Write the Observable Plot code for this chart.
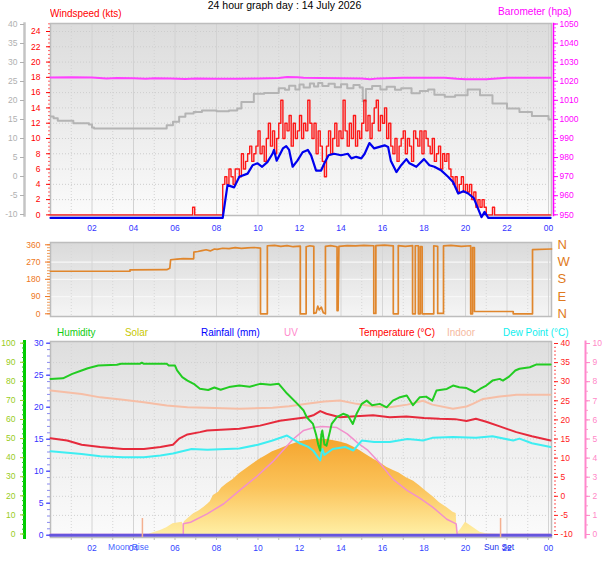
<!DOCTYPE html>
<html>
<head>
<meta charset="utf-8">
<script src="https://cdn.jsdelivr.net/npm/d3@7"></script>
<script src="https://cdn.jsdelivr.net/npm/@observablehq/plot@0.6"></script>
<style>
  body { margin: 0; background: #fff; }
  #chart { position: relative; width: 608px; height: 561px; overflow: hidden; background: #fff; }
  #chart svg { position: absolute; left: 0; }
  .lbl { position: absolute; white-space: nowrap; line-height: 1; }
</style>
</head>
<body>
<div id="chart"></div>
<script>
// ---------------- DATA ----------------
const title = "24 hour graph day : 14 July 2026";
const hourTicks = [2, 4, 6, 8, 10, 12, 14, 16, 18, 20, 22, 24];
const oddHours = [1, 3, 5, 7, 9, 11, 13, 15, 17, 19, 21, 23];

// Wind gust (kts): calm before, active part sampled every 0.1 h from 08:18, calm after
const gustCalmBeforeT = [0, 6.85, 6.95];
const gustCalmBeforeV = [0, 1, 0];
const gustStart = 8.3, gustStep = 0.1;
const gustValues = [
  4, 5, 4, 6, 5, 4, 6,
  6, 5, 8, 6, 7, 8, 9, 7, 8, 9,
  11, 8, 9, 7, 10, 12, 9, 11, 8, 10,
  12, 15, 10, 12, 11, 13, 9, 12, 10, 11,
  13, 10, 12, 11, 15, 12, 10, 12, 8, 11,
  9, 7, 5, 9, 11, 8, 10, 12, 9, 11,
  10, 15, 11, 9, 12, 10, 13, 9, 11, 10,
  12, 15, 11, 13, 10, 12, 14, 15, 11, 13,
  12, 14, 10, 12, 9, 8, 10, 7, 9, 10,
  11, 8, 10, 9, 7, 11, 10, 9, 11, 8,
  11, 10, 9, 8, 10, 7, 8, 9, 6, 8,
  7, 8, 6, 5, 4, 5, 3, 4, 5, 3,
  4, 3, 4, 2, 3, 1, 2, 1, 2, 1,
  0
];
const gustCalmAfterT = [21.3, 21.4, 24.1];
const gustCalmAfterV = [1, 0, 0];

// Average wind (kts)
const avgT = [0, 8.3, 8.53, 8.85, 9.1, 9.5, 9.74, 9.98, 10.2, 10.45, 10.7, 10.77, 10.9, 11.2, 11.36, 11.5, 11.67, 11.9, 12.15, 12.4, 12.56, 12.8, 13.04, 13.2, 13.4, 13.67, 14.0, 14.33, 14.5, 14.73, 14.98, 15.14, 15.37, 15.6, 15.85, 16.1, 16.27, 16.4, 16.67, 16.9, 17.15, 17.3, 17.63, 17.8, 18.0, 18.26, 18.5, 18.84, 19.16, 19.4, 19.65, 19.9, 20.13, 20.4, 20.6, 20.77, 20.92, 21.1, 24.1];
const avgV = [-0.4, -0.4, 3.9, 3.6, 5.0, 5.4, 6.5, 6.75, 6.3, 6.9, 8.0, 8.5, 7.1, 8.7, 9.0, 8.5, 6.3, 7.1, 8.2, 8.5, 7.8, 5.8, 5.8, 6.75, 7.8, 8.0, 7.8, 8.0, 7.4, 7.6, 7.4, 8.0, 9.4, 8.7, 8.9, 9.1, 8.9, 7.1, 5.6, 6.5, 7.3, 6.75, 6.3, 6.75, 7.3, 6.5, 6.3, 5.8, 5.0, 4.3, 2.8, 3.1, 2.8, 2.2, 0.85, -0.3, 0.4, -0.4, -0.4];

// Grey trace on the -10..40 scale
const greyT = [0, 0.15, 0.35, 1.1, 1.85, 2.0, 2.1, 5.6, 5.9, 6.2, 6.5, 6.9, 7.3, 8.0, 8.6, 9.0, 9.2, 9.8, 10.3, 11.0, 11.3, 11.5, 11.8, 12.0, 12.2, 12.5, 12.7, 12.9, 13.1, 13.4, 13.7, 14.0, 14.3, 14.6, 14.9, 15.05, 15.2, 15.5, 15.9, 16.2, 16.6, 16.9, 17.4, 17.8, 18.2, 18.5, 19.0, 19.5, 20.1, 20.7, 21.3, 22.0, 22.6, 23.2, 24.0, 24.1];
const greyV = [15.8, 15.3, 14.7, 14.0, 13.7, 12.9, 12.6, 13.5, 14.4, 15.7, 16.6, 17.0, 17.4, 17.2, 17.4, 17.9, 19.6, 21.8, 22.0, 23.2, 22.8, 23.9, 22.9, 24.2, 23.4, 24.5, 23.7, 24.6, 23.8, 24.4, 23.5, 24.3, 23.2, 24.1, 23.4, 19.8, 23.0, 23.8, 22.9, 23.6, 22.8, 23.2, 21.9, 22.5, 22.9, 21.5, 21.0, 21.4, 22.9, 21.4, 19.2, 17.9, 17.0, 15.9, 15.0, 15.0];

// Barometer (hPa)
const baroT = [0, 1.0, 2.0, 2.7, 3.2, 4.0, 4.6, 5.0, 5.8, 6.5, 7.0, 8.0, 9.0, 10.0, 11.0, 11.4, 11.9, 12.2, 13.0, 14.0, 15.0, 15.4, 15.8, 17.0, 18.0, 19.0, 19.6, 20.0, 21.0, 21.5, 22.0, 24.1];
const baroV = [1022.0, 1022.1, 1021.9, 1021.5, 1021.7, 1021.6, 1021.3, 1021.6, 1021.5, 1021.2, 1021.4, 1021.3, 1021.3, 1021.4, 1021.7, 1022.2, 1022.1, 1021.8, 1021.7, 1021.6, 1021.4, 1021.1, 1021.5, 1021.8, 1021.8, 1021.8, 1021.3, 1021.1, 1021.1, 1021.4, 1021.8, 1021.8];

// Wind direction (degrees)
const dirT = [0, 3.83, 3.83, 5.6, 5.75, 5.79, 6.1, 6.4, 6.9, 6.91, 7.1, 7.3, 7.5, 7.7, 7.9, 8.03, 8.3, 8.6, 8.9, 9.2, 9.5, 9.8, 10.12, 10.12, 10.45, 10.45, 10.8, 11.1, 11.4, 11.7, 12.04, 12.04, 12.32, 12.32, 12.5, 12.69, 12.69, 12.8, 12.88, 12.95, 13.05, 13.15, 13.25, 13.25, 13.5, 13.81, 13.81, 13.86, 13.9, 14.3, 14.7, 15.1, 15.58, 15.58, 15.68, 15.68, 16.1, 16.52, 16.52, 16.76, 16.76, 17.1, 17.45, 17.45, 17.58, 17.58, 17.73, 17.73, 17.82, 17.82, 17.91, 17.91, 18.47, 18.47, 18.66, 18.66, 18.94, 18.94, 19.3, 19.8, 20.25, 20.25, 20.34, 20.34, 20.43, 20.43, 22.3, 22.3, 23.23, 23.23, 24.15];
const dirV = [222, 222, 229, 230, 238, 282, 285, 288, 287, 322, 325, 330, 334, 328, 338, 336, 342, 340, 345, 341, 344, 346, 343, 0, 0, 355, 357, 352, 356, 350, 353, 0, 0, 350, 355, 352, 2, 5, 40, 20, 35, 5, 0, 352, 356, 350, 17, 17, 352, 356, 354, 357, 355, 2, 2, 356, 358, 354, 0, 0, 356, 352, 356, 0, 0, 355, 355, 0, 0, 350, 350, 0, 0, 355, 352, 2, 2, 354, 357, 352, 355, 0, 0, 345, 345, 12, 12, 0, 0, 335, 338];

// Humidity (%)
const humT = [0, 0.6, 1.05, 1.5, 1.8, 2.3, 3.2, 3.4, 4.3, 4.4, 4.5, 5.6, 5.7, 6.0, 6.1, 6.35, 6.6, 6.9, 7.2, 7.6, 7.9, 8.2, 8.6, 9.1, 9.6, 10.1, 10.6, 11.0, 11.4, 11.9, 12.2, 12.35, 12.65, 12.8, 12.9, 13.0, 13.05, 13.1, 13.2, 13.3, 13.45, 13.55, 13.8, 14.1, 14.33, 14.57, 14.75, 15.0, 15.24, 15.5, 15.87, 16.2, 16.5, 16.8, 17.17, 17.47, 17.8, 18.1, 18.4, 18.6, 19.1, 19.4, 19.7, 20.05, 20.45, 20.7, 21.0, 21.3, 21.65, 21.8, 22.1, 22.4, 22.6, 23.1, 23.4, 24.1];
const humV = [81.3, 81.6, 83.9, 85.7, 86.9, 88.3, 88.7, 89.2, 89.2, 89.8, 89.2, 89.2, 88.3, 88.3, 85.7, 82.2, 80.4, 78.7, 76.1, 75.5, 76.8, 75.6, 77.0, 77.8, 77.2, 78.7, 78.2, 78.7, 73.6, 68.2, 64.7, 61.2, 57.7, 52.0, 47.0, 43.7, 52.0, 54.2, 47.0, 46.3, 53.0, 57.7, 61.2, 63.0, 62.1, 57.7, 63.0, 68.2, 69.9, 67.5, 68.2, 66.4, 69.9, 71.5, 72.6, 67.5, 71.7, 72.0, 69.9, 75.2, 76.0, 77.8, 76.9, 76.5, 74.3, 76.0, 77.8, 80.4, 81.3, 80.4, 82.5, 85.7, 86.6, 87.4, 88.8, 88.8];

// Indoor temperature (°C)
const indoorT = [0, 1.5, 2.4, 3.5, 4.5, 5.6, 6.6, 7.5, 9.1, 10.7, 11.5, 12.35, 13.2, 13.95, 14.75, 15.5, 16.35, 17.2, 17.95, 18.4, 19.4, 20.05, 20.35, 20.85, 21.65, 22.45, 24.1];
const indoorV = [27.7, 26.8, 25.9, 25.3, 24.6, 23.8, 23.3, 23.2, 22.9, 23.2, 23.6, 24.2, 24.8, 25.1, 24.2, 23.6, 23.3, 24.0, 25.0, 24.0, 22.9, 23.5, 24.2, 25.5, 26.1, 26.6, 26.6];

// Outdoor temperature (°C)
const tempT = [0, 0.8, 1.5, 2.4, 3.5, 4.5, 5.3, 5.9, 6.2, 6.6, 7.2, 7.55, 9.1, 10.1, 11.05, 12.35, 12.7, 13.0, 13.3, 13.95, 14.5, 15.55, 16.35, 17.15, 18.0, 18.75, 19.5, 20.05, 20.5, 21.0, 21.65, 22.45, 23.2, 24.1];
const tempV = [15.2, 14.6, 13.5, 12.9, 12.4, 12.4, 12.9, 13.5, 15.1, 16.2, 16.8, 17.2, 17.7, 18.5, 19.8, 20.7, 21.3, 22.3, 21.6, 20.7, 20.9, 21.2, 20.7, 20.9, 20.5, 20.3, 20.2, 19.7, 20.3, 19.5, 18.3, 16.8, 15.7, 14.6];

// Dew point (°C)
const dewT = [0, 1.5, 2.4, 3.5, 4.5, 5.3, 5.9, 6.8, 7.55, 9.1, 10.0, 10.7, 11.4, 12.0, 12.4, 12.65, 12.85, 13.0, 13.1, 13.2, 13.6, 14.2, 14.6, 15.0, 15.6, 16.35, 17.2, 17.6, 17.95, 18.4, 19.4, 20.5, 21.3, 22.3, 22.6, 23.2, 24.1];
const dewV = [11.8, 11.1, 10.5, 10.2, 10.2, 10.7, 11.2, 12.4, 12.2, 12.5, 13.5, 14.6, 15.9, 13.9, 13.0, 12.0, 10.5, 9.4, 12.4, 10.8, 12.4, 12.9, 12.0, 14.6, 14.2, 14.2, 15.0, 14.8, 14.6, 15.3, 15.5, 15.3, 15.7, 14.6, 15.1, 13.9, 12.9];

// Solar radiation (W/m², no axis drawn)
const solarT = [0, 4.7, 4.8, 5.3, 5.6, 5.9, 6.35, 6.4, 6.45, 6.7, 6.9, 7.15, 7.4, 7.6, 7.7, 7.85, 8.1, 8.25, 8.5, 8.8, 9.1, 9.4, 9.75, 10.1, 10.4, 10.7, 11.05, 11.4, 11.7, 12.0, 12.35, 12.7, 13.0, 13.3, 13.6, 13.95, 14.3, 14.6, 14.9, 15.2, 15.55, 15.9, 16.2, 16.5, 16.8, 17.15, 17.5, 17.8, 18.1, 18.45, 18.75, 19.1, 19.4, 19.55, 19.6, 19.8, 20.0, 20.35, 20.7, 21.0, 21.65, 21.7, 24.1];
const solarV = [0, 0, 9, 26, 40, 61, 69, 52, 72, 95, 113, 128, 147, 165, 176, 208, 225, 248, 269, 292, 321, 345, 373, 398, 417, 436, 451, 466, 477, 488, 495, 500, 502, 500, 495, 487, 477, 461, 443, 422, 399, 378, 356, 340, 325, 301, 283, 258, 230, 200, 170, 146, 121, 115, 10, 36, 69, 43, 17, 9, 5, 0, 0];

// UV index
const uvT = [0, 6.4, 6.4, 6.75, 7.55, 8.35, 9.1, 9.9, 10.7, 11.2, 11.7, 12.2, 12.7, 13.1, 13.8, 14.3, 14.8, 15.3, 15.9, 16.5, 17.2, 17.8, 18.4, 19.1, 19.55, 19.6, 24.1];
const uvV = [0, 0, 0.56, 0.64, 1.08, 1.61, 2.3, 3.0, 3.8, 4.4, 5.0, 5.45, 5.6, 5.65, 5.6, 5.27, 4.8, 4.4, 3.7, 2.9, 2.3, 1.9, 1.45, 0.8, 0.56, 0, 0];

// Rainfall (mm)
const rainT = [0, 24.1];
const rainV = [0, 0];

// Events
const moonRise = [{t: 4.43, label: "Moon Rise"}];
const sunSet = [{t: 21.69, label: "Sun Set"}];

// Legend
const legendItems = [
  ["Humidity", 57, "#11cc11"], ["Solar", 125, "#c8c800"], ["Rainfall (mm)", 201, "#0000ff"],
  ["UV", 284, "#ff88cc"], ["Temperature (°C)", 359, "#ff0000"], ["Indoor", 447, "#f5b9a0"],
  ["Dew Point (°C)", 503, "#11eeee"]
];

// ---------------- LAYOUT ----------------
const chart = document.getElementById("chart");
const W = 608, X0 = 50, X1 = 551, X24 = 548;
const xDomain = [0, 24 * (X1 - X0) / (X24 - X0)];
const FONT = '"Liberation Sans", Arial, sans-serif';
const rows = (ts, vs) => ts.map((t, i) => ({t, v: vs[i]}));
const hh = d => String(d % 24).padStart(2, "0");
const plain = d => String(d);

function fit(v0, p0, v1, p1, P) {
  const k = (v1 - v0) / (p1 - p0);
  return [v0 + (P.bottom - p0) * k, v0 + (P.top - p0) * k];
}

function addGrad(svg, id, stops) {
  let defs = d3.select(svg).select("defs");
  if (defs.empty()) defs = d3.select(svg).insert("defs", ":first-child");
  const g = defs.append("linearGradient").attr("id", id)
    .attr("x1", 0).attr("y1", 0).attr("x2", 0).attr("y2", 1);
  stops.forEach(([o, c]) => g.append("stop").attr("offset", o).attr("stop-color", c));
}

function layer(P, yDomain, marks, grads) {
  const svg = Plot.plot({
    width: W, height: P.h,
    marginLeft: X0, marginRight: W - X1,
    marginTop: P.top - P.svgTop, marginBottom: P.svgTop + P.h - P.bottom,
    x: {domain: xDomain, axis: null, label: null},
    y: {domain: yDomain, axis: null, label: null},
    style: {background: "transparent", overflow: "visible", fontFamily: FONT},
    marks
  });
  svg.style.position = "absolute";
  svg.style.left = "0px";
  svg.style.top = P.svgTop + "px";
  (grads || []).forEach(g => addGrad(svg, g[0], g[1]));
  chart.appendChild(svg);
  return svg;
}

function label(text, x, cy, color, size, squeeze, anchor) {
  const d = document.createElement("div");
  d.className = "lbl";
  d.textContent = text;
  d.style.left = x + "px";
  d.style.top = (cy - size * 0.55) + "px";
  d.style.color = color;
  d.style.fontSize = size + "px";
  d.style.fontFamily = FONT;
  if (anchor === "middle") d.style.transform = "translateX(-50%)";
  else if (squeeze) { d.style.transformOrigin = "0 50%"; d.style.transform = `scaleX(${squeeze})`; }
  chart.appendChild(d);
}

const range = (a, b, s) => d3.range(a, b + s / 2, s);

// ---------------- TOP PANEL ----------------
const PT = {svgTop: 0, h: 240, top: 23, bottom: 215};
const windDom = fit(0, 214.4, 24, 31, PT);
const greyDom = fit(-10, 214, 40, 24, PT);
const baroDom = fit(950, 214.3, 1050, 23.5, PT);

layer(PT, windDom, [
  Plot.frame({fill: "url(#bgTop)"}),
  Plot.gridY(range(2, 24, 2), {stroke: "#cdcdcd", strokeOpacity: 1, strokeDasharray: "1,2"}),
  Plot.gridX(hourTicks, {stroke: "#d2d2d2", strokeOpacity: 1}),
  Plot.gridX(oddHours, {stroke: "#d2d2d2", strokeOpacity: 1, strokeDasharray: "1,2"}),
  Plot.frame({stroke: "#bdbdbd", strokeWidth: 1.5}),
  Plot.axisY({ticks: range(0, 25, 0.5), tickSize: 2, tickFormat: () => "", color: "#ff6060", label: null}),
  Plot.axisY({ticks: range(0, 24, 2), tickSize: 4, tickPadding: 6, tickFormat: plain, color: "#ff0000", fontSize: 8.5, label: null}),
  Plot.axisX({ticks: hourTicks, tickSize: 0, tickPadding: 9, tickFormat: hh, color: "#3333ff", fontSize: 8.5, label: null})
], [["bgTop", [[0, "#dcdcdc"], [0.35, "#e6e6e6"], [1, "#fbfbfb"]]]]);

layer(PT, greyDom, [
  Plot.frame({anchor: "left", dx: -26, stroke: "#c4c4c4", strokeWidth: 2.5}),
  Plot.axisY({ticks: range(-10, 40, 5), tickSize: 4, tickPadding: 3, dx: -26, tickFormat: plain, color: "#b0b0b0", fontSize: 8.5, label: null}),
  Plot.line(rows(greyT, greyV), {x: "t", y: "v", stroke: "#b4b4b4", strokeWidth: 2, curve: "step-after"})
]);

layer(PT, baroDom, [
  Plot.frame({anchor: "right", dx: 2, stroke: "#ff00ff", strokeWidth: 1.5}),
  Plot.axisY({anchor: "right", ticks: range(950, 1050, 2), tickSize: 2, dx: 2, tickFormat: () => "", color: "#ff55ff", label: null}),
  Plot.axisY({anchor: "right", ticks: range(950, 1050, 10), tickSize: 4, tickPadding: 2, dx: 2, tickFormat: plain, color: "#ff00ff", fontSize: 8.5, label: null}),
  Plot.line(rows(baroT, baroV), {x: "t", y: "v", stroke: "#ff40ff", strokeWidth: 2})
]);

const gustRows = [
  ...rows(gustCalmBeforeT, gustCalmBeforeV),
  ...gustValues.map((v, i) => ({t: gustStart + i * gustStep, v})),
  ...rows(gustCalmAfterT, gustCalmAfterV)
];
layer(PT, windDom, [
  Plot.line(gustRows, {x: "t", y: "v", stroke: "#ff0000", strokeWidth: 1.4, strokeOpacity: 0.9, curve: "step-after"}),
  Plot.line(rows(avgT, avgV), {x: "t", y: "v", stroke: "#0000ee", strokeWidth: 2.2})
]);

// ---------------- MIDDLE PANEL ----------------
const PM = {svgTop: 232, h: 92, top: 242, bottom: 316};
const dirDom = fit(0, 313.3, 360, 244.3, PM);
const compass = {0: "N", 90: "E", 180: "S", 270: "W", 360: "N"};
layer(PM, dirDom, [
  Plot.frame({fill: "url(#bgMid)"}),
  Plot.gridY([90, 180, 270], {stroke: "#f7f7f7", strokeOpacity: 1, strokeWidth: 1.2}),
  Plot.gridX(hourTicks, {stroke: "#d6d6d6", strokeOpacity: 1}),
  Plot.gridX(oddHours, {stroke: "#d6d6d6", strokeOpacity: 1, strokeDasharray: "1,2"}),
  Plot.frame({stroke: "#bdbdbd", strokeWidth: 1.5}),
  Plot.axisY({ticks: range(0, 360, 15), tickSize: 3, tickFormat: () => "", color: "#f0a060", label: null}),
  Plot.axisY({ticks: [0, 90, 180, 270, 360], tickSize: 5, tickPadding: 5, tickFormat: plain, color: "#ee7722", fontSize: 8.5, label: null}),
  Plot.axisY({anchor: "right", ticks: [0, 90, 180, 270, 360], tickSize: 0, tickPadding: 6, tickFormat: d => compass[d], color: "#e07a20", fontSize: 13, label: null}),
  Plot.line(rows(dirT, dirV), {x: "t", y: "v", stroke: "#e0862c", strokeWidth: 1.7})
], [["bgMid", [[0, "#dadada"], [1, "#f5f5f5"]]]]);

// ---------------- BOTTOM PANEL ----------------
const PB = {svgTop: 322, h: 239, top: 341, bottom: 537};
const tempDom = fit(-10, 534, 40, 343, PB);
const humDom = fit(0, 533.5, 100, 342.7, PB);
const rainDom = fit(0, 534.7, 30, 342.7, PB);
const uvDom = fit(0, 534, 10, 343, PB);
const solarDom = fit(0, 535, 1000, 343, PB);

layer(PB, tempDom, [
  Plot.frame({fill: "url(#bgBot)"}),
  Plot.gridY(range(-5, 35, 5), {stroke: "#d0d0d0", strokeOpacity: 1, strokeDasharray: "1,2"}),
  Plot.gridX(hourTicks, {stroke: "#d4d4d4", strokeOpacity: 1}),
  Plot.gridX(oddHours, {stroke: "#d4d4d4", strokeOpacity: 1, strokeDasharray: "1,2"}),
  Plot.frame({stroke: "#bdbdbd", strokeWidth: 1.5}),
  Plot.axisX({ticks: range(1, 24, 1), tickSize: 3, tickFormat: () => "", color: "#bbbbbb", label: null}),
  Plot.axisX({ticks: hourTicks, tickSize: 0, tickPadding: 7, tickFormat: hh, color: "#3344ff", fontSize: 8.5, label: null}),
  Plot.axisY({anchor: "right", ticks: range(-10, 40, 1), tickSize: 2, dx: 2, tickFormat: () => "", color: "#ff5555", label: null}),
  Plot.axisY({anchor: "right", ticks: range(-10, 40, 5), tickSize: 4, tickPadding: 3, dx: 2, tickFormat: plain, color: "#ff2222", fontSize: 8.5, label: null})
], [["bgBot", [[0, "#dedede"], [0.4, "#ebebeb"], [1, "#fbfbfb"]]]]);

layer(PB, solarDom, [
  Plot.areaY(rows(solarT, solarV), {x: "t", y: "v", fill: "url(#solarGrad)"})
], [["solarGrad", [[0, "#f5a52e"], [0.5, "#fbc35a"], [1, "#fff0a6"]]]]);

layer(PB, uvDom, [
  Plot.frame({anchor: "right", dx: 34, stroke: "#ff88cc", strokeWidth: 2}),
  Plot.axisY({anchor: "right", ticks: range(0, 10, 0.5), tickSize: 2, dx: 34, tickFormat: () => "", color: "#ff99cc", label: null}),
  Plot.axisY({anchor: "right", ticks: range(0, 10, 1), tickSize: 4, tickPadding: 3, dx: 34, tickFormat: plain, color: "#ff88c8", fontSize: 8.5, label: null}),
  Plot.line(rows(uvT, uvV), {x: "t", y: "v", stroke: "#f290cc", strokeWidth: 1.5})
]);

layer(PB, tempDom, [
  Plot.line(rows(indoorT, indoorV), {x: "t", y: "v", stroke: "#f6bea6", strokeWidth: 2}),
  Plot.line(rows(dewT, dewV), {x: "t", y: "v", stroke: "#3eeef2", strokeWidth: 2}),
  Plot.line(rows(tempT, tempV), {x: "t", y: "v", stroke: "#e62a3c", strokeWidth: 2})
]);

layer(PB, humDom, [
  Plot.frame({anchor: "left", dx: -26, stroke: "#00cc00", strokeWidth: 3}),
  Plot.axisY({ticks: range(0, 100, 2.5), tickSize: 2, dx: -26, tickFormat: () => "", color: "#22cc22", label: null}),
  Plot.axisY({ticks: range(0, 100, 10), tickSize: 4, tickPadding: 5, dx: -26, tickFormat: plain, color: "#99cc22", fontSize: 8.5, label: null}),
  Plot.line(rows(humT, humV), {x: "t", y: "v", stroke: "#22cc22", strokeWidth: 2})
]);

layer(PB, rainDom, [
  Plot.axisY({ticks: range(0, 30, 1), tickSize: 3, tickFormat: () => "", color: "#8a8aee", label: null}),
  Plot.axisY({ticks: range(0, 30, 5), tickSize: 4, tickPadding: 3, tickFormat: plain, color: "#3333ff", fontSize: 8.5, label: null}),
  Plot.line(rows(rainT, rainV), {x: "t", y: "v", stroke: "#6655dd", strokeWidth: 3}),
  Plot.ruleX(moonRise, {x: "t", stroke: "#f4b090", strokeWidth: 1.5, insetTop: 177}),
  Plot.ruleX(sunSet, {x: "t", stroke: "#f4b090", strokeWidth: 1.5, insetTop: 177}),
  Plot.text(moonRise, {x: "t", text: "label", frameAnchor: "bottom", dy: 12, dx: -14, fill: "#4466ff", fontSize: 8.5}),
  Plot.text(sunSet, {x: "t", text: "label", frameAnchor: "bottom", dy: 12, dx: -1.5, fill: "#2233ee", fontSize: 8.5})
]);

// ---------------- TEXT ----------------
label(title, 284.5, 6, "#000000", 10.5, null, "middle");
label("Windspeed (kts)", 50, 14.5, "#ff0000", 11.5, 0.86);
label("Barometer (hpa)", 498, 12.5, "#ff00ff", 11.5, 0.88);
legendItems.forEach(([t, x, c]) => label(t, x, 333, c, 11.5, 0.86));
</script>
</body>
</html>
